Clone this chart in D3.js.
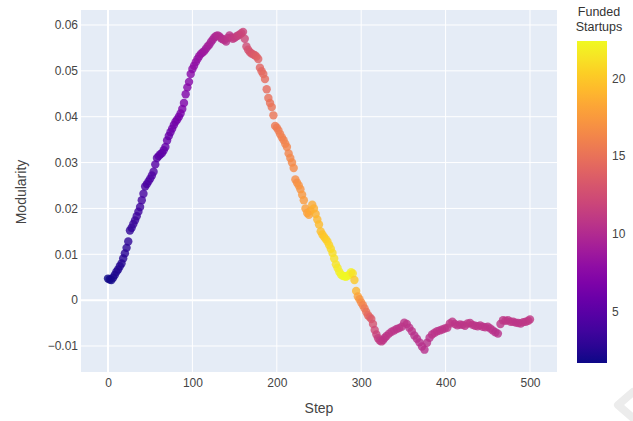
<!DOCTYPE html>
<html>
<head>
<meta charset="utf-8">
<script src="https://cdn.jsdelivr.net/npm/d3@7"></script>
<style>
  body { margin: 0; background: #fff; }
  text { font-family: "Liberation Sans", Arial, sans-serif; }
</style>
</head>
<body>
<script>
// Datos: paso, modularidad y startups financiadas
var steps = [
  0, 2, 4, 6, 8, 10, 12, 14, 16, 18,
  20, 22, 24, 26, 28, 30, 32, 34, 36, 38,
  40, 42, 44, 46, 48, 50, 52, 54, 56, 58,
  60, 62, 64, 66, 68, 70, 72, 74, 76, 78,
  80, 82, 84, 86, 88, 90, 92, 94, 96, 98,
  100, 102, 104, 106, 108, 110, 112, 114, 116, 118,
  120, 122, 124, 126, 128, 130, 132, 134, 136, 138,
  140, 142, 144, 146, 148, 150, 152, 154, 156, 158,
  160, 162, 164, 166, 168, 170, 172, 174, 176, 178,
  180, 182, 184, 186, 188, 190, 192, 194, 196, 198,
  200, 202, 204, 206, 208, 210, 212, 214, 216, 218,
  220, 222, 224, 226, 228, 230, 232, 234, 236, 238,
  240, 242, 244, 246, 248, 250, 252, 254, 256, 258,
  260, 262, 264, 266, 268, 270, 272, 274, 276, 278,
  280, 282, 284, 286, 288, 290, 292, 294, 296, 298,
  300, 302, 304, 306, 308, 310, 312, 314, 316, 318,
  320, 322, 324, 326, 328, 330,
  333, 336, 339, 342, 345, 348, 351, 354, 357, 360,
  363, 366, 369, 372, 375, 378, 381, 384, 387, 390,
  393, 396, 399, 402, 405, 408, 411, 414, 417, 420,
  423, 426, 429, 432, 435, 438, 441, 444, 447, 450,
  453, 456, 459, 462, 465, 468, 471, 474, 477, 480,
  483, 486, 489, 492, 495, 498, 500
];

var modularity = [
  0.0047, 0.0045, 0.0044, 0.0049, 0.0055, 0.0062, 0.0067, 0.0074, 0.0080, 0.0091,
  0.0102, 0.0114, 0.0128, 0.0152, 0.0158, 0.0166, 0.0174, 0.0183, 0.0193, 0.0203,
  0.0218, 0.0232, 0.0248, 0.0253, 0.0259, 0.0265, 0.0272, 0.0280, 0.0296, 0.0310,
  0.0314, 0.0318, 0.0321, 0.0327, 0.0334, 0.0348, 0.0358, 0.0366, 0.0374, 0.0382,
  0.0389, 0.0394, 0.0400, 0.0407, 0.0417, 0.0430, 0.0449, 0.0464, 0.0476, 0.0493,
  0.0504, 0.0511, 0.0519, 0.0526, 0.0532, 0.0537, 0.0540, 0.0543, 0.0548, 0.0553,
  0.0557, 0.0563, 0.0568, 0.0573, 0.0576, 0.0577, 0.0575, 0.0571, 0.0569, 0.0567,
  0.0564, 0.0572, 0.0577, 0.0573, 0.0570, 0.0572, 0.0575, 0.0577, 0.0579, 0.0582,
  0.0585, 0.0570, 0.0553, 0.0546, 0.0541, 0.0538, 0.0536, 0.0534, 0.0531, 0.0526,
  0.0507, 0.0499, 0.0493, 0.0482, 0.0460, 0.0441, 0.0430, 0.0421, 0.0403, 0.0380,
  0.0376, 0.0370, 0.0362, 0.0355, 0.0349, 0.0341, 0.0334, 0.0320, 0.0310, 0.0300,
  0.0288, 0.0263, 0.0256, 0.0250, 0.0242, 0.0230, 0.0218, 0.0200, 0.0190, 0.0186,
  0.0195, 0.0208, 0.0200, 0.0188, 0.0176, 0.0165, 0.0150, 0.0143, 0.0138, 0.0133,
  0.0128, 0.0120, 0.0112, 0.0103, 0.0091, 0.0078, 0.0070, 0.0062, 0.0056, 0.0053,
  0.0052, 0.0051, 0.0053, 0.0056, 0.0061, 0.0058, 0.0044, 0.0020, 0.0008, 0.0002,
  -0.0005, -0.0011, -0.0018, -0.0026, -0.0033, -0.0037, -0.0041, -0.0052, -0.0065, -0.0075,
  -0.0083, -0.0088, -0.0090, -0.0087, -0.0082, -0.0078,
  -0.0073, -0.0069, -0.0066, -0.0063, -0.0061, -0.0058, -0.0049, -0.0052, -0.0060, -0.0068,
  -0.0077, -0.0084, -0.0092, -0.0101, -0.0108, -0.0093, -0.0082, -0.0075, -0.0071, -0.0068,
  -0.0066, -0.0064, -0.0062, -0.0060, -0.0051, -0.0047, -0.0052, -0.0055, -0.0053, -0.0054,
  -0.0056, -0.0051, -0.0050, -0.0054, -0.0056, -0.0057, -0.0055, -0.0058, -0.0059, -0.0058,
  -0.0062, -0.0066, -0.0070, -0.0073, -0.0052, -0.0044, -0.0045, -0.0044, -0.0047, -0.0047,
  -0.0049, -0.0050, -0.0051, -0.0048, -0.0047, -0.0045, -0.0042
];

var funded = [
  1.7, 1.8, 1.9, 2.0, 2.1, 2.2, 2.3, 2.4, 2.5, 2.6,
  2.7, 2.8, 2.9, 3.0, 3.1, 3.3, 3.4, 3.5, 3.6, 3.7,
  3.9, 4.0, 4.1, 4.2, 4.3, 4.4, 4.5, 4.6, 4.8, 4.9,
  5.0, 5.1, 5.2, 5.3, 5.5, 5.6, 5.7, 5.8, 6.0, 6.1,
  6.2, 6.4, 6.5, 6.6, 6.8, 6.9, 7.0, 7.2, 7.3, 7.5,
  7.6, 7.8, 7.9, 8.1, 8.2, 8.4, 8.5, 8.7, 8.8, 9.0,
  9.1, 9.3, 9.4, 9.6, 9.7, 9.9, 10.0, 10.1, 10.2, 10.4,
  10.5, 10.6, 10.8, 10.9, 11.0, 11.2, 11.3, 11.5, 11.6, 11.8,
  12.0, 12.2, 12.4, 12.7, 12.9, 13.1, 13.3, 13.5, 13.7, 13.9,
  14.1, 14.3, 14.4, 14.6, 14.7, 14.9, 15.0, 15.2, 15.3, 15.5,
  15.6, 15.7, 15.8, 15.9, 16.0, 16.1, 16.2, 16.3, 16.4, 16.5,
  16.6, 16.8, 16.9, 17.1, 17.2, 17.4, 17.6, 17.8, 17.9, 18.1,
  18.3, 18.5, 18.7, 18.9, 19.1, 19.3, 19.5, 19.7, 19.9, 20.1,
  20.3, 20.5, 20.8, 21.0, 21.2, 21.4, 21.6, 21.8, 22.0, 22.2,
  22.3, 22.4, 22.3, 22.2, 22.0, 21.2, 20.0, 19.0, 18.0, 17.3,
  16.7, 16.1, 15.5, 15.0, 14.5, 14.0, 13.5, 12.9, 12.3, 11.8,
  11.4, 11.2, 11.0, 10.9, 10.8, 10.8,
  10.8, 10.7, 10.7, 10.6, 10.6, 10.7, 10.8, 10.7, 10.6, 10.6,
  10.5, 10.5, 10.4, 10.4, 10.4, 10.5, 10.5, 10.6, 10.6, 10.7,
  10.7, 10.7, 10.8, 10.8, 10.9, 10.9, 10.8, 10.8, 10.8, 10.8,
  10.8, 10.9, 10.9, 10.8, 10.8, 10.8, 10.8, 10.7, 10.7, 10.7,
  10.6, 10.6, 10.5, 10.5, 10.8, 10.9, 10.9, 10.9, 10.9, 10.9,
  10.8, 10.8, 10.8, 10.9, 10.9, 10.9, 11.0
];

var xTicks = [0, 100, 200, 300, 400, 500];
var yTicks = [-0.01, 0, 0.01, 0.02, 0.03, 0.04, 0.05, 0.06];
var cbTicks = [5, 10, 15, 20];

// Tamano del lienzo y area de dibujo
var W = 633, H = 421;
var plot = {left: 81, top: 10, right: 557, bottom: 372};

var x = d3.scaleLinear().domain([-32, 532]).range([plot.left, plot.right]);
var y = d3.scaleLinear().domain([-0.01567, 0.06327]).range([plot.bottom, plot.top]);
var color = d3.scaleSequential(d3.interpolatePlasma).domain([1.7, 22.4]);

var svg = d3.select("body").append("svg")
    .attr("width", W)
    .attr("height", H);

svg.append("rect").attr("width", W).attr("height", H).attr("fill", "#fff");

svg.append("rect")
    .attr("x", plot.left).attr("y", plot.top)
    .attr("width", plot.right - plot.left)
    .attr("height", plot.bottom - plot.top)
    .attr("fill", "#e5ecf6");

// Rejilla
var grid = svg.append("g");
grid.selectAll(".gx").data(xTicks).enter().append("line")
    .attr("x1", d => x(d)).attr("x2", d => x(d))
    .attr("y1", plot.top).attr("y2", plot.bottom)
    .attr("stroke", "#fff")
    .attr("stroke-width", d => d === 0 ? 2 : 1);
grid.selectAll(".gy").data(yTicks).enter().append("line")
    .attr("x1", plot.left).attr("x2", plot.right)
    .attr("y1", d => y(d)).attr("y2", d => y(d))
    .attr("stroke", "#fff")
    .attr("stroke-width", d => d === 0 ? 2 : 1);

// Ejes
var fmtY = function(d) { return d === 0 ? "0" : d3.format(".2f")(d).replace("-", "\u2212"); };

var xAxis = svg.append("g")
    .attr("transform", "translate(0," + plot.bottom + ")")
    .call(d3.axisBottom(x).tickValues(xTicks).tickSize(0).tickPadding(6));
var yAxis = svg.append("g")
    .attr("transform", "translate(" + plot.left + ",0)")
    .call(d3.axisLeft(y).tickValues(yTicks).tickFormat(fmtY).tickSize(0).tickPadding(3));

[xAxis, yAxis].forEach(function(a) {
  a.select(".domain").remove();
  a.selectAll("text")
    .attr("fill", "#444")
    .style("font-size", "12px")
    .style("font-family", "'Liberation Sans', Arial, sans-serif");
});

// Puntos
var pts = steps.map(function(s, i) { return {step: s, mod: modularity[i], f: funded[i]}; });
svg.append("g").selectAll("circle").data(pts).enter().append("circle")
    .attr("cx", d => x(d.step))
    .attr("cy", d => y(d.mod))
    .attr("r", 4.2)
    .attr("fill", d => color(d.f))
    .attr("fill-opacity", 0.8);

// Titulos de los ejes
svg.append("text")
    .attr("x", 319).attr("y", 413)
    .attr("text-anchor", "middle")
    .attr("fill", "#444")
    .style("font-size", "14px")
    .text("Step");

svg.append("text")
    .attr("transform", "translate(21,192) rotate(-90)")
    .attr("text-anchor", "middle")
    .attr("dy", "0.35em")
    .attr("fill", "#444")
    .style("font-size", "14px")
    .text("Modularity");

// Barra de color
var cbX = 577, cbW = 30, cbTop = 41, cbBottom = 363;
var cb = d3.scaleLinear().domain([1.7, 22.4]).range([cbBottom, cbTop]);

var grad = svg.append("defs").append("linearGradient")
    .attr("id", "plasma")
    .attr("x1", "0").attr("y1", "1").attr("x2", "0").attr("y2", "0");
d3.range(0, 1.0001, 0.05).forEach(function(t) {
  grad.append("stop")
      .attr("offset", t)
      .attr("stop-color", d3.interpolatePlasma(t));
});

svg.append("rect")
    .attr("x", cbX).attr("y", cbTop)
    .attr("width", cbW).attr("height", cbBottom - cbTop)
    .attr("fill", "url(#plasma)");

svg.append("g").selectAll("text").data(cbTicks).enter().append("text")
    .attr("x", cbX + cbW + 5)
    .attr("y", d => cb(d))
    .attr("dy", "0.35em")
    .attr("fill", "#444")
    .style("font-size", "12px")
    .text(d => d);

svg.append("text")
    .attr("x", 599).attr("y", 16)
    .attr("text-anchor", "middle")
    .attr("fill", "#333")
    .style("font-size", "12.5px")
    .text("Funded");
svg.append("text")
    .attr("x", 599).attr("y", 31)
    .attr("text-anchor", "middle")
    .attr("fill", "#333")
    .style("font-size", "12.5px")
    .text("Startups");

// Marca gris de la esquina inferior derecha
svg.append("path")
    .attr("d", "M633,392 L618,405 L633,418")
    .attr("fill", "none")
    .attr("stroke", "#ececec")
    .attr("stroke-width", 8)
    .attr("stroke-linecap", "round")
    .attr("stroke-linejoin", "round");
</script>
</body>
</html>
